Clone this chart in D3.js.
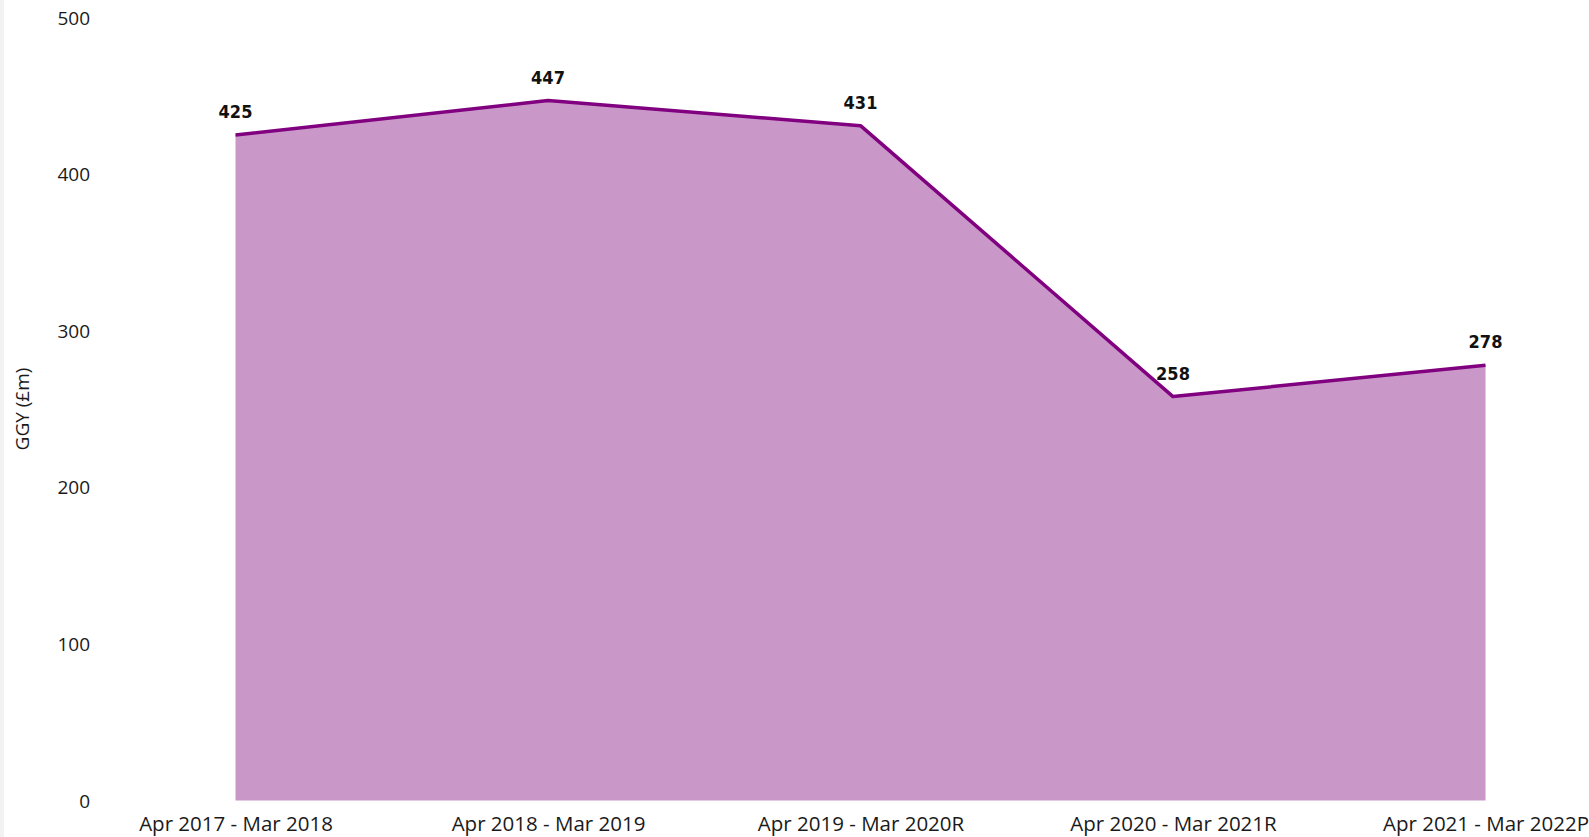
<!DOCTYPE html>
<html><head><meta charset="utf-8">
<script src="https://cdn.jsdelivr.net/npm/d3@7"></script>
<style>
html,body{margin:0;padding:0;background:#fff;overflow:hidden}
svg{display:block}
</style></head>
<body>
<script>
const categories = ["Apr 2017 - Mar 2018","Apr 2018 - Mar 2019","Apr 2019 - Mar 2020R","Apr 2020 - Mar 2021R","Apr 2021 - Mar 2022P"];
const values = [425, 447, 431, 258, 278];
const yTicks = [0, 100, 200, 300, 400, 500];
const yTitle = "GGY (£m)";

const W = 1589, H = 837;
const svg = d3.select("body").append("svg").attr("width", W).attr("height", H);
svg.append("rect").attr("x",0).attr("y",0).attr("width",4).attr("height",H).attr("fill","#f2f2f2");

const x = d3.scalePoint().domain(categories).range([235.5, 1485.5]);
const y = d3.scaleLinear().domain([0, 500]).range([800.6, 17.6]);

const data = categories.map((c,i)=>({c, v: values[i]}));

svg.append("path").datum(data)
  .attr("d", d3.area().x(d=>x(d.c)).y0(y(0)).y1(d=>y(d.v)))
  .attr("fill", "#ca97c9");
svg.append("path").datum(data)
  .attr("d", d3.line().x(d=>x(d.c)).y(d=>y(d.v)))
  .attr("fill", "none").attr("stroke", "#800080").attr("stroke-width", 3.5).attr("stroke-linejoin","round");

const font = "'Open Sans', sans-serif";
const yAxis = svg.append("g").attr("transform","translate(90,0)")
  .call(d3.axisLeft(y).tickValues(yTicks).tickSize(0).tickPadding(0));
yAxis.select(".domain").remove();
yAxis.selectAll("text").attr("font-family", font).attr("font-size", 19).attr("fill","#1a1a1a").attr("dy","0.34em");

const xAxis = svg.append("g").attr("transform","translate(0,816)")
  .call(d3.axisBottom(x).tickSize(0).tickPadding(0));
xAxis.select(".domain").remove();
xAxis.selectAll("text").attr("font-family", font).attr("font-size", 20.5).attr("fill","#1a1a1a").attr("dy","0.75em");

svg.append("text").attr("transform","translate(29,409) rotate(-90)")
  .attr("text-anchor","middle").attr("font-family", font).attr("font-size",19).attr("fill","#1a1a1a")
  .text(yTitle);

svg.append("g").selectAll("text").data(data).join("text")
  .attr("x", d=>x(d.c)).attr("y", d=>y(d.v)-17)
  .attr("text-anchor","middle").attr("font-family","'DejaVu Sans Condensed', 'DejaVu Sans', sans-serif")
  .attr("font-weight","bold").attr("font-size",18).attr("fill","#111")
  .text(d=>d.v);
</script>
</body></html>
